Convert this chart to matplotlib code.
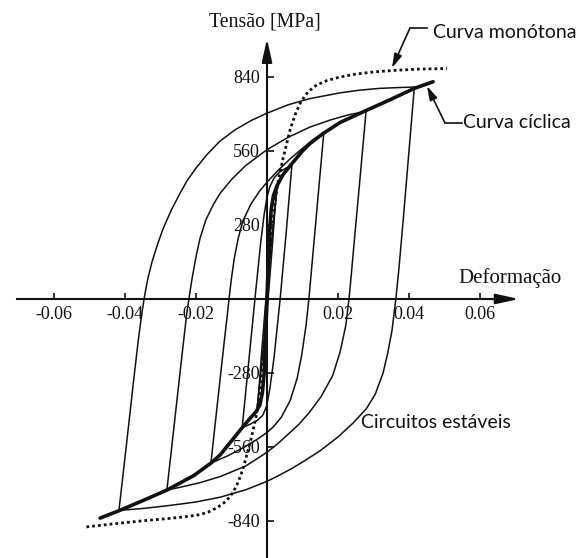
import matplotlib
matplotlib.use('Agg')
import matplotlib.pyplot as plt
from matplotlib.lines import Line2D

plt.rcParams['axes.unicode_minus'] = False

# eixos
x_ticks = [-0.06, -0.04, -0.02, 0.02, 0.04, 0.06]
x_labels = ['-0.06', '-0.04', '-0.02', '0.02', '0.04', '0.06']
y_ticks = [-840, -560, -280, 280, 560, 840]
y_labels = ['-840', '-560', '-280', '280', '560', '840']

# curva cíclica estabilizada
cyc_eps = [-0.0470, -0.0415, -0.0350, -0.0282, -0.0206, -0.0158, -0.0132, -0.0100,
           -0.0070, -0.0048, -0.0030, -0.0020, -0.0013, -0.0008, -0.0004, 0.0,
           0.0004, 0.0008, 0.0012, 0.0018, 0.0028, 0.0045, 0.0070, 0.0100, 0.0121,
           0.0158, 0.0206, 0.0279, 0.0350, 0.0415, 0.0468]
cyc_sig = [-829, -800, -763, -723, -668, -621, -590, -537, -487, -452, -425, -400,
           -355, -280, -150, 0, 150, 270, 340, 390, 428, 470, 512, 560, 588, 626,
           668, 713, 756, 797, 822]

# curva monótona (tração e compressão)
mono_t_eps = [0.0, 0.0008, 0.0016, 0.0024, 0.0032, 0.0045, 0.0065, 0.0080, 0.0095,
              0.0115, 0.0140, 0.0170, 0.0206, 0.0250, 0.0300, 0.0360, 0.0430, 0.0507]
mono_t_sig = [0, 150, 280, 380, 450, 530, 640, 700, 745, 783, 810, 827, 840, 851,
              859, 865, 870, 872]
mono_c_eps = [0.0, -0.0008, -0.0016, -0.0024, -0.0032, -0.0045, -0.0068, -0.0082,
              -0.0096, -0.0115, -0.0141, -0.0165, -0.0189, -0.0230, -0.0273, -0.0340,
              -0.0414, -0.0513]
mono_c_sig = [0, -150, -280, -390, -455, -530, -645, -695, -733, -765, -790, -806,
              -816, -824, -830, -838, -848, -863]

# circuitos estáveis: ramo ascendente (up) e descendente (down)
l1_up_eps = [-0.0417, -0.0395, -0.0375, -0.0362, -0.0352, -0.0345, -0.0336, -0.0324,
             -0.0310, -0.0293, -0.0270, -0.0245, -0.0225, -0.0200, -0.0170, -0.0132,
             -0.0090, -0.0045, 0.0, 0.0060, 0.0120, 0.0206, 0.0260, 0.0318, 0.0370,
             0.0415]
l1_up_sig = [-800, -540, -300, -150, -50, 10, 75, 140, 200, 265, 335, 400, 448, 495,
             545, 598, 640, 675, 703, 735, 758, 780, 790, 797, 800, 802]
l1_down_eps = [0.0415, 0.0400, 0.0385, 0.0372, 0.0363, 0.0352, 0.0340, 0.0327, 0.0305,
               0.0280, 0.0242, 0.0200, 0.0149, 0.0100, 0.0065, 0.0030, 0.0, -0.0060,
               -0.0132, -0.0200, -0.0273, -0.0345, -0.0417]
l1_down_sig = [802, 560, 320, 120, 0, -120, -205, -280, -360, -415, -470, -522, -575,
               -617, -645, -670, -690, -722, -750, -768, -781, -792, -800]

l2_up_eps = [-0.0282, -0.0265, -0.0248, -0.0235, -0.0226, -0.0220, -0.0212, -0.0200,
             -0.0189, -0.0172, -0.0150, -0.0132, -0.0100, -0.0060, 0.0, 0.0060,
             0.0120, 0.0180, 0.0230, 0.0279]
l2_up_sig = [-723, -520, -315, -160, -55, 0, 70, 160, 228, 300, 360, 400, 452, 505,
             565, 612, 650, 678, 697, 710]
l2_down_eps = [0.0279, 0.0265, 0.0250, 0.0238, 0.0231, 0.0222, 0.0206, 0.0185, 0.0152,
               0.0120, 0.0090, 0.0065, 0.0030, 0.0, -0.0060, -0.0132, -0.0189, -0.0240,
               -0.0282]
l2_down_sig = [710, 500, 280, 100, 0, -100, -200, -290, -370, -428, -474, -505, -548,
               -580, -632, -672, -695, -711, -723]

l3_up_eps = [-0.0158, -0.0140, -0.0122, -0.0113, -0.0107, -0.0100, -0.0092, -0.0081,
             -0.0068, -0.0045, -0.0020, 0.0, 0.0030, 0.0065, 0.0100, 0.0130, 0.0160]
l3_up_sig = [-621, -400, -180, -75, 0, 80, 155, 230, 295, 360, 410, 442, 485, 530,
             570, 603, 629]
l3_down_eps = [0.0160, 0.0146, 0.0132, 0.0118, 0.0110, 0.0098, 0.0085, 0.0065, 0.0040,
               0.0017, 0.0, -0.0030, -0.0070, -0.0110, -0.0158]
l3_down_sig = [629, 420, 210, 0, -100, -210, -300, -385, -448, -485, -505, -533,
               -565, -593, -621]

l4_up_eps = [-0.0070, -0.0052, -0.0034, -0.0018, -0.0008, 0.0, 0.0008, 0.0020, 0.0035,
             0.0052, 0.0070]
l4_up_sig = [-487, -245, 0, 210, 320, 385, 425, 458, 480, 494, 505]
l4_down_eps = [0.0070, 0.0054, 0.0037, 0.0020, 0.0008, -0.0001, -0.0012, -0.0028,
               -0.0048, -0.0070]
l4_down_sig = [505, 250, 0, -220, -340, -405, -440, -460, -474, -487]

l5_up_eps = [-0.0028, -0.0010, 0.0003, 0.0015, 0.0022, 0.0028]
l5_up_sig = [-420, -180, 0, 200, 330, 420]
l5_down_eps = [0.0028, 0.0010, -0.0003, -0.0015, -0.0022, -0.0028]
l5_down_sig = [420, 180, 0, -200, -330, -420]

loops = [
    (l1_up_eps, l1_up_sig), (l1_down_eps, l1_down_sig),
    (l2_up_eps, l2_up_sig), (l2_down_eps, l2_down_sig),
    (l3_up_eps, l3_up_sig), (l3_down_eps, l3_down_sig),
    (l4_up_eps, l4_up_sig), (l4_down_eps, l4_down_sig),
    (l5_up_eps, l5_up_sig), (l5_down_eps, l5_down_sig),
]

ink = '#111111'
serif = 'Liberation Serif'
sans = 'Lato'

fig = plt.figure(figsize=(5.8, 5.58), dpi=100)
ax = fig.add_axes([0, 0, 1, 1])
ax.set_xlim(-0.07521, 0.08817)
ax.set_ylim(-980, 1131.3)
ax.patch.set_visible(False)

# eixos cruzando na origem
for s in ['top', 'right']:
    ax.spines[s].set_visible(False)
ax.spines['left'].set_position(('data', 0))
ax.spines['bottom'].set_position(('data', 0))
ax.spines['left'].set_bounds(-980, 945)
ax.spines['bottom'].set_bounds(-0.0704, 0.066)
for s in ['left', 'bottom']:
    ax.spines[s].set_linewidth(1.5)
    ax.spines[s].set_color(ink)

ax.set_xticks(x_ticks)
ax.set_xticklabels(x_labels, family=serif, fontsize=13, color=ink)
ax.set_yticks(y_ticks)
ax.set_yticklabels(y_labels, family=serif, fontsize=13, color=ink)
ax.tick_params(axis='x', direction='in', length=4, width=1.2, pad=5, colors=ink)
ax.tick_params(axis='y', direction='in', length=5, width=1.2, pad=5, colors=ink)

# pontas de seta dos eixos
head = dict(arrowstyle='-|>,head_length=1.0,head_width=0.22', color=ink, lw=1.5,
            mutation_scale=14, shrinkA=0, shrinkB=0)
ax.annotate('', xy=(0.0710, 0), xytext=(0.060, 0), arrowprops=head)
ax.annotate('', xy=(0, 985), xytext=(0, 900), arrowprops=head)

# curvas
for eps, sig in loops:
    ax.plot(eps, sig, color=ink, lw=1.1, solid_joinstyle='round')
ax.plot(mono_t_eps, mono_t_sig, color=ink, lw=2.0, linestyle=(0, (1, 1.1)))
ax.plot(mono_c_eps, mono_c_sig, color=ink, lw=2.0, linestyle=(0, (1, 1.1)))
ax.plot(cyc_eps, cyc_sig, color=ink, lw=2.6, solid_capstyle='round',
        solid_joinstyle='round')

# textos
fig.text(265 / 580, 1 - 22 / 558, 'Tensão [MPa]', family=serif, fontsize=14.3,
         ha='center', va='center', color=ink)
fig.text(458 / 580, 1 - 278 / 558, 'Deformação', family=serif, fontsize=15,
         ha='left', va='center', color=ink)
fig.text(433 / 580, 1 - 33 / 558, 'Curva monótona', family=sans, fontsize=14,
         ha='left', va='center', color=ink)
fig.text(463 / 580, 1 - 123 / 558, 'Curva cíclica', family=sans, fontsize=14,
         ha='left', va='center', color=ink)
fig.text(361 / 580, 1 - 423 / 558, 'Circuitos estáveis', family=sans, fontsize=14,
         ha='left', va='center', color=ink)

# linhas de chamada
lead = dict(arrowstyle='-|>,head_length=0.7,head_width=0.2', color=ink, lw=1.2,
            mutation_scale=12, shrinkA=0, shrinkB=0)
fig.add_artist(Line2D([427 / 580, 410 / 580], [1 - 28 / 558, 1 - 28 / 558],
                      color=ink, lw=1.2))
ax.annotate('', xy=(392, 558 - 68), xycoords='figure pixels',
            xytext=(410, 558 - 28), textcoords='figure pixels', arrowprops=lead)
fig.add_artist(Line2D([462 / 580, 445 / 580], [1 - 123 / 558, 1 - 123 / 558],
                      color=ink, lw=1.2))
ax.annotate('', xy=(427, 558 - 86), xycoords='figure pixels',
            xytext=(445, 558 - 123), textcoords='figure pixels', arrowprops=lead)

fig.savefig('out.png', dpi=100, facecolor='white')
